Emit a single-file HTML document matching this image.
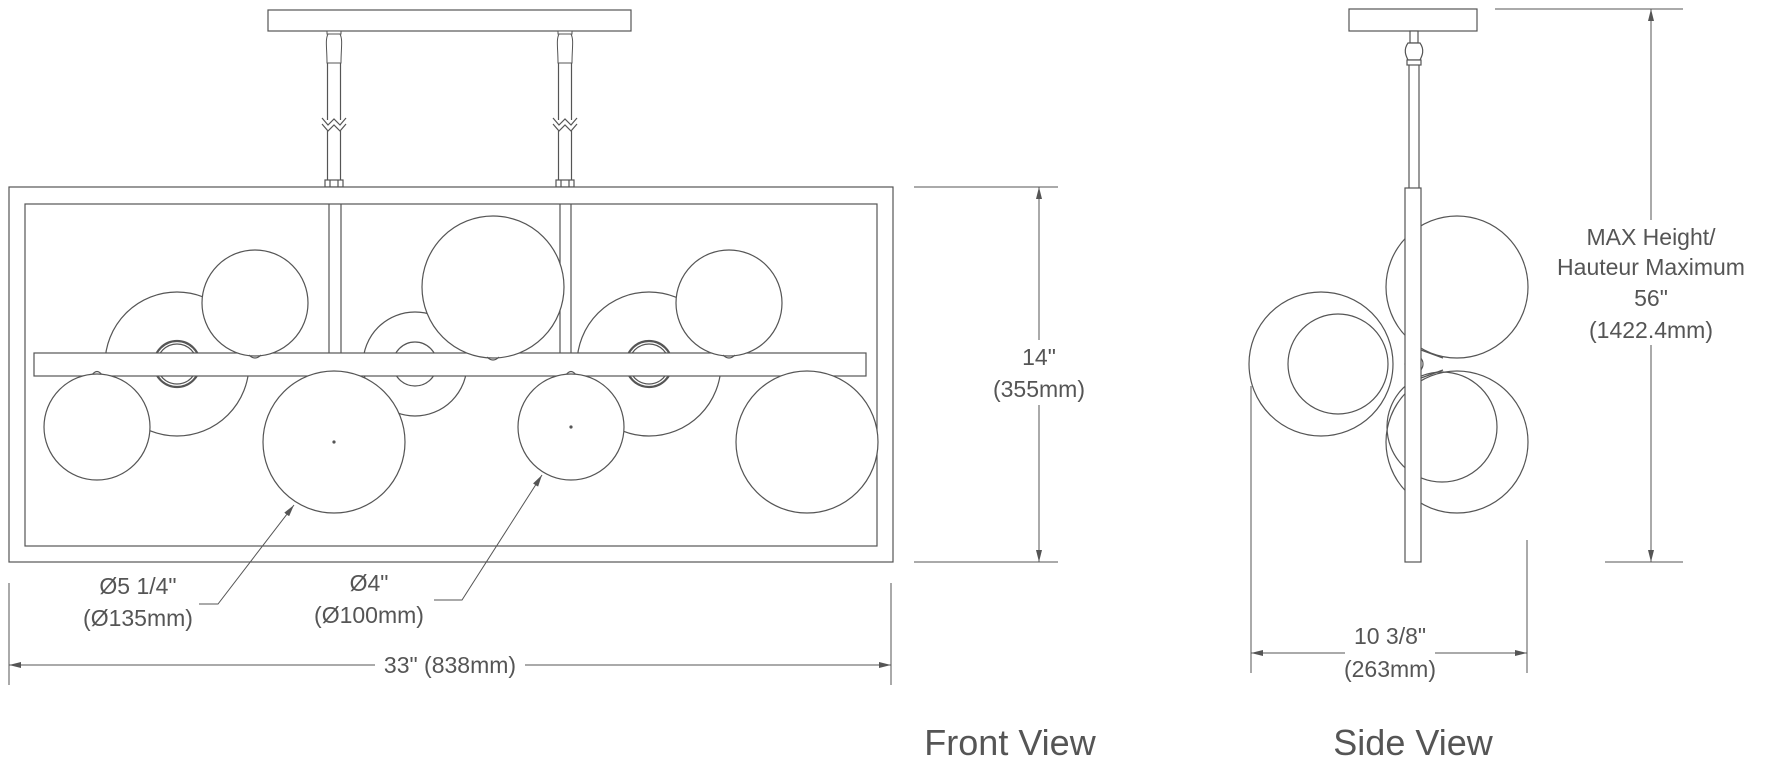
<!DOCTYPE html>
<html><head><meta charset="utf-8"><style>
html,body{margin:0;padding:0;background:#fff;}
svg{display:block;}
text{font-family:"Liberation Sans",sans-serif;fill:#555;}
</style></head><body>
<svg width="1789" height="773" viewBox="0 0 1789 773" xmlns="http://www.w3.org/2000/svg">
<defs>
<marker id="ar" viewBox="0 0 12 6" refX="12" refY="3" markerWidth="12" markerHeight="6" orient="auto" markerUnits="userSpaceOnUse"><path d="M0,0 L12,3 L0,6 z" fill="#555"/></marker>
<g id="stem">
<rect x="-7" y="31" width="14" height="3" fill="#fff" stroke="#555" stroke-width="1"/>
<path d="M-6,34 C-9,40 -7,48 -7,63 L7,63 C7,48 9,40 6,34 Z" fill="#fff" stroke="#555" stroke-width="1"/>
<line x1="-6.5" y1="63" x2="-6.5" y2="120" stroke="#555"/>
<line x1="6.5" y1="63" x2="6.5" y2="120" stroke="#555"/>
<path d="M-12,118 L-6,125 L0,119 L6,125 L12,118 M-12,124 L-6,131 L0,125 L6,131 L12,124" fill="none" stroke="#555"/>
<line x1="-6.5" y1="131" x2="-6.5" y2="181" stroke="#555"/>
<line x1="6.5" y1="131" x2="6.5" y2="181" stroke="#555"/>
<rect x="-9" y="180" width="18" height="7" fill="#fff" stroke="#555"/>
<line x1="-4" y1="180" x2="-4" y2="187" stroke="#555"/><line x1="4" y1="180" x2="4" y2="187" stroke="#555"/>
</g>
</defs>
<g fill="none" stroke="#555" stroke-width="1.2">
<!-- Front view -->
<rect x="268" y="10" width="363" height="21" fill="#fff"/>
<use href="#stem" x="334"/>
<use href="#stem" x="565"/>
<rect x="9" y="187" width="884" height="375" fill="#fff"/>
<rect x="25" y="204" width="852" height="342"/>
<line x1="329" y1="204" x2="329" y2="353"/><line x1="341" y1="204" x2="341" y2="353"/>
<line x1="560" y1="204" x2="560" y2="353"/><line x1="571" y1="204" x2="571" y2="353"/>
<circle cx="177" cy="364" r="72" fill="#fff"/>
<circle cx="415" cy="364" r="52" fill="#fff"/>
<circle cx="649" cy="364" r="72" fill="#fff"/>
<circle cx="177" cy="364" r="23" stroke-width="2.2"/><circle cx="177" cy="364" r="20"/>
<circle cx="415" cy="364" r="22"/>
<circle cx="649" cy="364" r="23" stroke-width="2.2"/><circle cx="649" cy="364" r="20"/>
<rect x="34" y="353" width="832" height="23" fill="#fff"/>
<circle cx="255" cy="303" r="53" fill="#fff"/>
<circle cx="493" cy="287" r="71" fill="#fff"/>
<circle cx="729" cy="303" r="53" fill="#fff"/>
<path d="M249,355 q6,6 12,0 M487,357 q6,6 12,0 M723,355 q6,6 12,0"/>
<path d="M92,375 q5,-7 10,0 M329,375 q5,-7 10,0 M566,375 q5,-7 10,0 M802,375 q5,-7 10,0"/>
<circle cx="97" cy="427" r="53" fill="#fff"/>
<circle cx="334" cy="442" r="71" fill="#fff"/>
<circle cx="571" cy="427" r="53" fill="#fff"/>
<circle cx="807" cy="442" r="71" fill="#fff"/>
<circle cx="334" cy="442" r="1" fill="#555"/><circle cx="571" cy="427" r="1" fill="#555"/>
<polyline points="199,604 218,604 294,505" marker-end="url(#ar)" stroke-width="1"/>
<polyline points="434,600 462,600 542,475" marker-end="url(#ar)" stroke-width="1"/>
<line x1="914" y1="187" x2="1058" y2="187" stroke-width="1"/>
<line x1="914" y1="562" x2="1058" y2="562" stroke-width="1"/>
<line x1="1039" y1="340" x2="1039" y2="187" marker-end="url(#ar)" stroke-width="1"/>
<line x1="1039" y1="405" x2="1039" y2="562" marker-end="url(#ar)" stroke-width="1"/>
<line x1="9" y1="583" x2="9" y2="685" stroke-width="1"/>
<line x1="891" y1="583" x2="891" y2="685" stroke-width="1"/>
<line x1="375" y1="665" x2="9" y2="665" marker-end="url(#ar)" stroke-width="1"/>
<line x1="525" y1="665" x2="891" y2="665" marker-end="url(#ar)" stroke-width="1"/>
</g>
<g fill="none" stroke="#555" stroke-width="1.2" transform="translate(-7,0)">
<rect x="1356" y="9" width="128" height="22" fill="#fff"/>
<rect x="1417" y="31" width="8" height="12" fill="#fff"/>
<path d="M1415,43 C1410,50 1413,56 1415,60 L1427,60 C1429,56 1432,50 1427,43 Z" fill="#fff"/>
<rect x="1414" y="60" width="14" height="5" fill="#fff"/>
<line x1="1416" y1="65" x2="1416" y2="188"/><line x1="1426" y1="65" x2="1426" y2="188"/>
<circle cx="1464" cy="287" r="71" fill="#fff"/>
<circle cx="1464" cy="442" r="71" fill="#fff"/>
<circle cx="1449" cy="427" r="55"/>
<circle cx="1328" cy="364" r="72" fill="#fff"/>
<circle cx="1345" cy="364" r="50"/>
<path d="M1428,350 L1450,358 M1428,378 L1450,370"/>
<circle cx="1421" cy="364" r="9" fill="#fff"/>
<rect x="1412" y="188" width="16" height="374" fill="#fff"/>
<line x1="1502" y1="9" x2="1690" y2="9" stroke-width="1"/>
<line x1="1612" y1="562" x2="1690" y2="562" stroke-width="1"/>
<line x1="1658" y1="220" x2="1658" y2="9" marker-end="url(#ar)" stroke-width="1"/>
<line x1="1658" y1="345" x2="1658" y2="562" marker-end="url(#ar)" stroke-width="1"/>
<line x1="1258" y1="386" x2="1258" y2="673" stroke-width="1"/>
<line x1="1534" y1="540" x2="1534" y2="673" stroke-width="1"/>
<line x1="1352" y1="653" x2="1258" y2="653" marker-end="url(#ar)" stroke-width="1"/>
<line x1="1442" y1="653" x2="1534" y2="653" marker-end="url(#ar)" stroke-width="1"/>
</g>
<g font-size="23" text-anchor="middle">
<text x="1039" y="365">14"</text>
<text x="1039" y="397">(355mm)</text>
<text x="138" y="594">Ø5 1/4"</text>
<text x="138" y="626">(Ø135mm)</text>
<text x="369" y="591">Ø4"</text>
<text x="369" y="623">(Ø100mm)</text>
<text x="450" y="673">33" (838mm)</text>
<text x="1651" y="245">MAX Height/</text>
<text x="1651" y="275">Hauteur Maximum</text>
<text x="1651" y="306">56"</text>
<text x="1651" y="338">(1422.4mm)</text>
<text x="1390" y="644">10 3/8"</text>
<text x="1390" y="677">(263mm)</text>
<text x="1010" y="755" font-size="36">Front View</text>
<text x="1413" y="755" font-size="36">Side View</text>
</g>
</svg>
</body></html>
